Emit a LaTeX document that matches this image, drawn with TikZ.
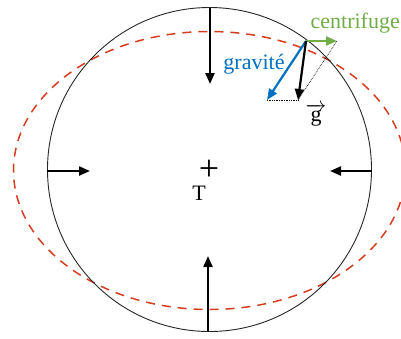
\documentclass[tikz,border=0pt]{standalone}
\usepackage{fontspec}
\setmainfont{Liberation Serif}
\usetikzlibrary{arrows.meta}
\definecolor{cgreen}{RGB}{112,173,71}
\definecolor{cblue}{RGB}{0,112,192}
\definecolor{cred}{RGB}{214,60,30}
\begin{document}
\begin{tikzpicture}[x=1pt,y=-1pt,
  force/.style={line width=2.2pt,-{Triangle[length=11pt,width=9pt]}},
  lbl/.style={font=\fontsize{22}{25}\selectfont,inner sep=0pt},
  helper/.style={densely dotted,line width=0.7pt}]
\useasboundingbox (0,0) rectangle (401,338);
\begin{scope}
\clip (0,0) rectangle (401,338);
\draw[cred,dashed,line width=1.5pt,dash pattern=on 9pt off 7pt] (209.5,170.5) ellipse [x radius=196, y radius=139];
\end{scope}
\draw[black!85,line width=0.9pt] (209.5,169.5) circle [radius=162];
% radial arrows
\coordinate (tS) at (210,8);   \coordinate (tE) at (210,84);
\coordinate (bS) at (208,331); \coordinate (bE) at (208,256);
\coordinate (lS) at (47,171);  \coordinate (lE) at (90,171);
\coordinate (rS) at (372,171); \coordinate (rE) at (330,171);
\draw[force] (tS) -- (tE);
\draw[force] (bS) -- (bE);
\draw[force] (lS) -- (lE);
\draw[force] (rS) -- (rE);
% centre
\node[font=\fontsize{36}{36}\selectfont,inner sep=0pt] (plus) at (209,170) {+};
\node[lbl] (T) at (199,193) {T};
% forces at surface point
\coordinate (P) at (306,41);
\coordinate (C) at (337,41);
\coordinate (G) at (267,100);
\coordinate (R) at (298,100);
\draw[helper] (G) -- (R);
\draw[helper] (R) -- (C);
\draw[force,cgreen] (P) -- (C);
\draw[force,cblue] (P) -- (G);
\draw[force,black] (P) -- (R);
\node[lbl,text=cgreen,anchor=east] (cf) at (400,23) {centrifuge};
\node[lbl,text=cblue] (gr) at (254,64) {gravité};
\node[lbl] (g) at (316,115) {$\overrightarrow{\mathrm{g}}$};
\end{tikzpicture}
\end{document}
